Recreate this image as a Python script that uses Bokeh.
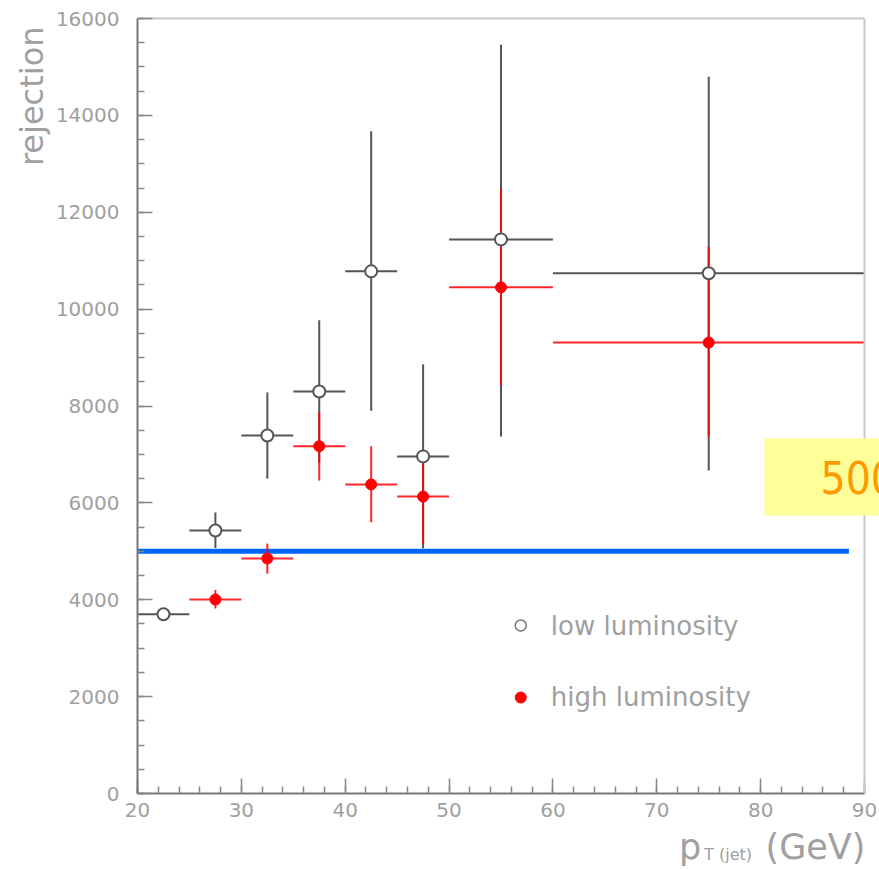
from bokeh.plotting import figure
from bokeh.models import Range1d, FixedTicker, Label, LinearAxis, Title, Span
from bokeh.embed import file_html
from bokeh.resources import INLINE

# ---- data ----
pt_low = [22.5, 27.5, 32.5, 37.5, 42.5, 47.5, 55.0, 75.0]
bin_lo_low = [20, 25, 30, 35, 40, 45, 50, 60]
bin_hi_low = [25, 30, 35, 40, 45, 50, 60, 90]
rej_low = [3700, 5430, 7390, 8300, 10780, 6960, 11440, 10740]
rej_low_up = [3800, 5800, 8280, 9770, 13670, 8860, 15460, 14800]
rej_low_dn = [3600, 5070, 6500, 6830, 7900, 5060, 7370, 6670]

pt_high = [27.5, 32.5, 37.5, 42.5, 47.5, 55.0, 75.0]
bin_lo_high = [25, 30, 35, 40, 45, 50, 60]
bin_hi_high = [30, 35, 40, 45, 50, 60, 90]
rej_high = [4005, 4852, 7170, 6380, 6130, 10450, 9310]
rej_high_up = [4200, 5160, 7870, 7170, 6940, 12490, 11290]
rej_high_dn = [3820, 4540, 6460, 5600, 5160, 8420, 7370]

threshold = 5000
threshold_x = [20, 88.5]
threshold_text = "5000"

x_ticks = [20, 30, 40, 50, 60, 70, 80, 90]
y_ticks = [0, 2000, 4000, 6000, 8000, 10000, 12000, 14000, 16000]
legend_labels = ["low luminosity", "high luminosity"]

GREY_TXT = "#a0a0a0"
BLACK = "#555555"
RED = "#ff0000"
FONT = "DejaVu Sans"

X_MAX_AXIS = 90
p = figure(width=879, height=869, output_backend="svg", toolbar_location=None,
           x_range=Range1d(20, 91.444), y_range=Range1d(0, 16000),
           min_border_left=137, min_border_right=0, min_border_top=18, min_border_bottom=76)
p.grid.visible = False
p.outline_line_color = None
p.background_fill_color = "white"
p.border_fill_color = "white"

for ax, ticks, minors in ((p.xaxis[0], x_ticks, list(range(20, 91, 2))),
                          (p.yaxis[0], y_ticks, list(range(0, 16001, 500)))):
    ax.ticker = FixedTicker(ticks=ticks, minor_ticks=minors)
    ax.axis_line_color = "#777777"
    ax.axis_line_width = 2
    ax.major_tick_line_color = "#888888"
    ax.minor_tick_line_color = "#888888"
    ax.major_tick_line_width = 1.5
    ax.minor_tick_line_width = 1.5
    ax.major_tick_in = 15
    ax.major_tick_out = 0
    ax.minor_tick_in = 7
    ax.minor_tick_out = 0
    ax.major_label_text_color = GREY_TXT
    ax.major_label_text_font = FONT
    ax.major_label_text_font_size = "20px"
p.xaxis[0].bounds = (20, X_MAX_AXIS)
p.yaxis[0].major_label_standoff = 18
p.xaxis[0].major_label_standoff = 9

# frame top and right borders
top_axis = LinearAxis(bounds=(20, X_MAX_AXIS), ticker=FixedTicker(ticks=[]),
                      axis_line_color="#c8c8c8", axis_line_width=2,
                      major_tick_line_color=None, minor_tick_line_color=None,
                      major_label_text_font_size="0px")
p.add_layout(top_axis, "above")
p.add_layout(Span(location=X_MAX_AXIS, dimension="height", line_color="#c8c8c8", line_width=2))

# x axis title: big parts and subscript
ax_big = LinearAxis(ticker=FixedTicker(ticks=[73.2, 85.28]),
                    major_label_overrides={73.2: "p", 85.28: "(GeV)"},
                    axis_line_color=None, major_tick_line_color=None, minor_tick_line_color=None,
                    major_tick_out=0, major_tick_in=0,
                    major_label_text_font=FONT, major_label_text_font_size="35px",
                    major_label_text_color=GREY_TXT, major_label_standoff=7)
p.add_layout(ax_big, "below")
ax_sub = LinearAxis(ticker=FixedTicker(ticks=[76.86]),
                    major_label_overrides={76.86: "T (jet)"},
                    axis_line_color=None, major_tick_line_color=None, minor_tick_line_color=None,
                    major_tick_out=0, major_tick_in=0,
                    major_label_text_font=FONT, major_label_text_font_size="16px",
                    major_label_text_color=GREY_TXT, major_label_standoff=-25)
p.add_layout(ax_sub, "below")

# y axis title
p.add_layout(Title(text="rejection", align="right", text_font=FONT, text_font_size="32px",
                   text_font_style="normal", text_color=GREY_TXT, standoff=3, offset=8), "left")

# threshold line
p.line(threshold_x, [threshold, threshold], line_color="#0066ff", line_width=5)

# low luminosity
p.segment(bin_lo_low, rej_low, bin_hi_low, rej_low, line_color=BLACK, line_width=2)
p.segment(pt_low, rej_low_dn, pt_low, rej_low_up, line_color=BLACK, line_width=2)

# high luminosity
p.segment(bin_lo_high, rej_high, bin_hi_high, rej_high, line_color=RED, line_width=2, line_alpha=0.85)
p.segment(pt_high, rej_high_dn, pt_high, rej_high_up, line_color=RED, line_width=2, line_alpha=0.85)

p.scatter(pt_low, rej_low, marker="circle", size=12, fill_color="white",
          line_color=BLACK, line_width=2)
p.scatter(pt_high, rej_high, marker="circle", size=11, fill_color=RED, line_color=RED)

# legend
p.scatter([56.9], [3468], marker="circle", size=11, fill_color="white", line_color="#777777", line_width=1.5)
p.scatter([56.9], [1982], marker="circle", size=11, fill_color=RED, line_color=RED)
for txt, yy in zip(legend_labels, (3468, 1982)):
    p.add_layout(Label(x=59.8, y=yy, text=txt, text_font=FONT, text_font_size="26px",
                       text_color=GREY_TXT, text_baseline="middle", text_align="left"))

# yellow box
p.add_layout(Label(x=80.37, y=5738, text=threshold_text,
                   text_font="'Liberation Sans Narrow', 'DejaVu Sans Condensed', sans-serif",
                   text_font_size="44px",
                   text_color="#ff9900", text_baseline="bottom", text_align="left",
                   background_fill_color="#ffff99",
                   padding=dict(left=56, right=60, top=22, bottom=22)))

open("out.html", "w").write(file_html(p, INLINE))
